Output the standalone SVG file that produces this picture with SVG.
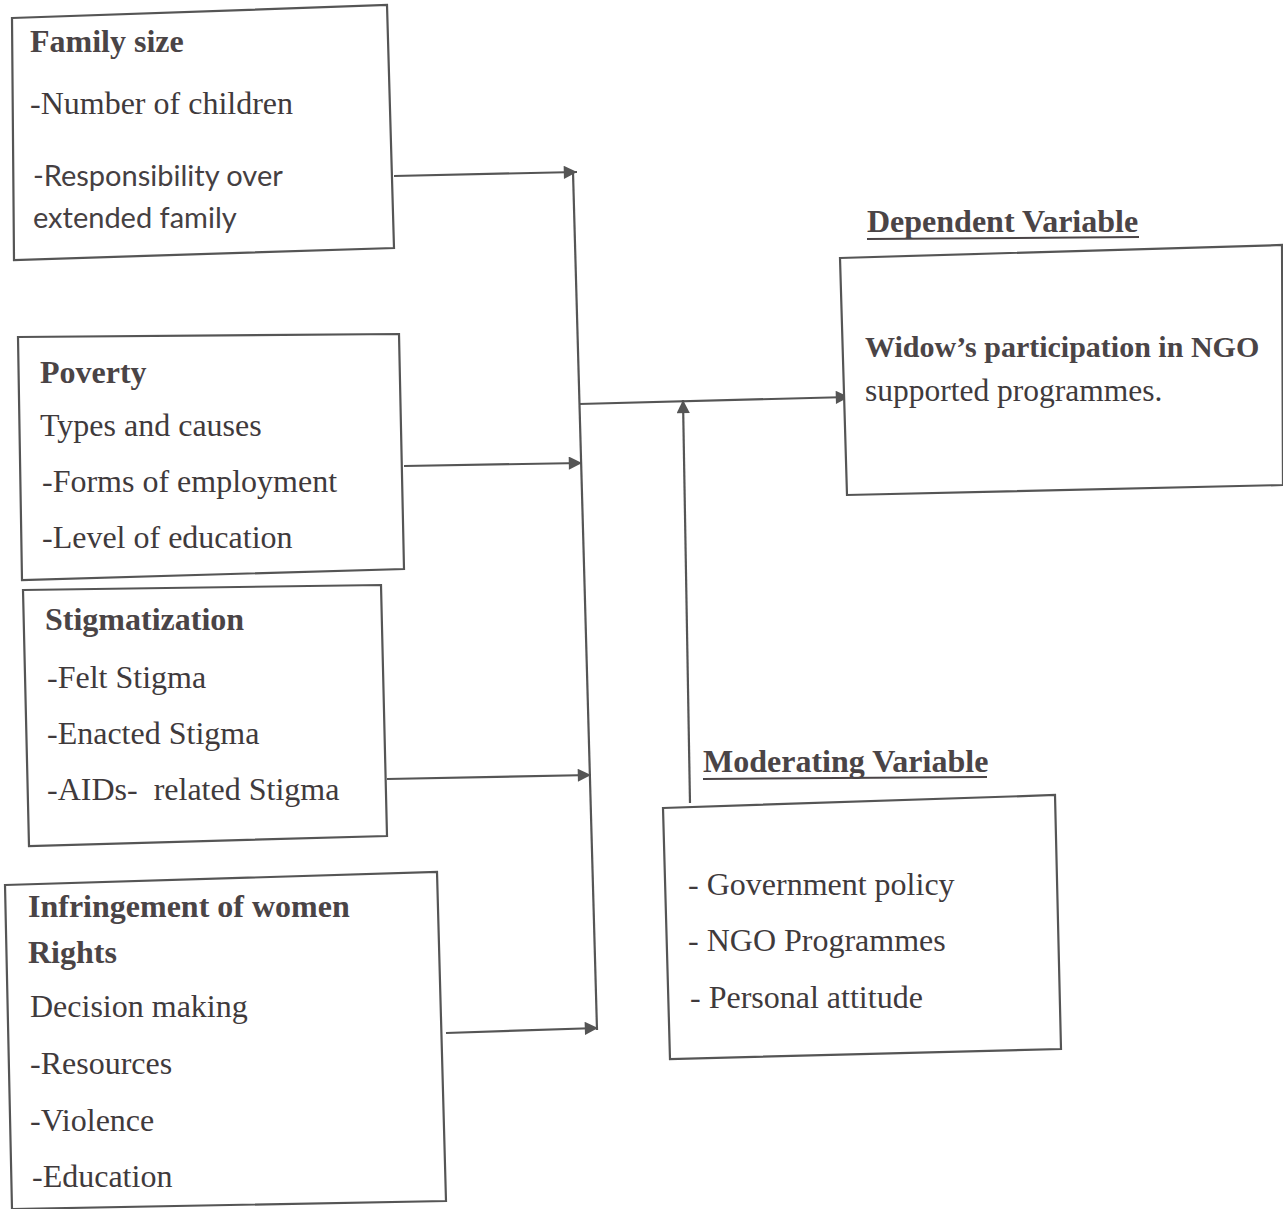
<svg xmlns="http://www.w3.org/2000/svg" width="1283" height="1209" viewBox="0 0 1283 1209">
<defs>
<style>
.box{fill:#fff;stroke:#555;stroke-width:2.2}
.serif{font-family:"Liberation Serif","Times New Roman",serif;font-size:32px;fill:#3f3a3c}
.bold{font-weight:bold;fill:#4a4446}
.sans{font-family:Lato,"Liberation Sans",sans-serif;font-size:29px;fill:#454042}
.ul{stroke:#4a4446;stroke-width:2}
.con{fill:none;stroke:#555;stroke-width:2.2}
</style>
<marker id="ah" viewBox="0 0 10 10" refX="10" refY="5" markerWidth="7" markerHeight="6" markerUnits="strokeWidth" orient="auto">
<path d="M0,0 L10,5 L0,10 z" fill="#555"/>
</marker>
</defs>
<rect width="1283" height="1209" fill="#fff"/>

<g id="connectors">
<line class="con" x1="394" y1="176" x2="577" y2="172" marker-end="url(#ah)"/>
<line class="con" x1="573" y1="172" x2="597" y2="1030"/>
<line class="con" x1="404" y1="466" x2="582" y2="463" marker-end="url(#ah)"/>
<line class="con" x1="387" y1="779" x2="591" y2="775" marker-end="url(#ah)"/>
<line class="con" x1="446" y1="1033" x2="598" y2="1028" marker-end="url(#ah)"/>
<line class="con" x1="579" y1="404" x2="849" y2="397" marker-end="url(#ah)"/>
<line class="con" x1="690" y1="803" x2="683" y2="400" marker-end="url(#ah)"/>
</g>

<g id="family-size">
<polygon class="box" points="12,18 387,5 394,248 14,260"/>
<text class="serif bold" x="30" y="52">Family size</text>
<text class="serif" x="30" y="114">-Number of children</text>
<text class="sans" x="33" y="186">-Responsibility over</text>
<text class="sans" x="33" y="228">extended family</text>
</g>

<g id="poverty">
<polygon class="box" points="18,337 399,334 404,569 22,580"/>
<text class="serif bold" x="40" y="383">Poverty</text>
<text class="serif" x="40" y="436">Types and causes</text>
<text class="serif" x="42" y="492">-Forms of employment</text>
<text class="serif" x="42" y="548">-Level of education</text>
</g>

<g id="stigmatization">
<polygon class="box" points="23,590 381,585 387,836 29,846"/>
<text class="serif bold" x="45" y="630">Stigmatization</text>
<text class="serif" x="47" y="688">-Felt Stigma</text>
<text class="serif" x="47" y="744">-Enacted Stigma</text>
<text class="serif" x="47" y="800" style="white-space:pre">-AIDs-  related Stigma</text>
</g>

<g id="infringement">
<polygon class="box" points="5,885 437,872 446,1201 12,1209"/>
<text class="serif bold" x="28" y="917">Infringement of women</text>
<text class="serif bold" x="28" y="963">Rights</text>
<text class="serif" x="30" y="1017">Decision making</text>
<text class="serif" x="30" y="1074">-Resources</text>
<text class="serif" x="30" y="1131">-Violence</text>
<text class="serif" x="32" y="1187">-Education</text>
</g>

<g id="dependent-variable">
<text class="serif bold" x="867" y="232">Dependent Variable</text>
<line class="ul" x1="867" y1="239" x2="1139" y2="237"/>
<polygon class="box" points="840,258 1282,245 1283,485 847,495"/>
<text class="serif bold" x="865" y="357" style="font-size:30px">Widow’s participation in NGO</text>
<text class="serif" x="865" y="401" style="font-size:31.5px">supported programmes.</text>
</g>

<g id="moderating-variable">
<text class="serif bold" x="703" y="772">Moderating Variable</text>
<line class="ul" x1="703" y1="779" x2="987" y2="777"/>
<polygon class="box" points="663,808 1055,795 1061,1049 670,1059"/>
<text class="serif" x="688" y="895">- Government policy</text>
<text class="serif" x="688" y="951">- NGO Programmes</text>
<text class="serif" x="690" y="1008">- Personal attitude</text>
</g>
</svg>
